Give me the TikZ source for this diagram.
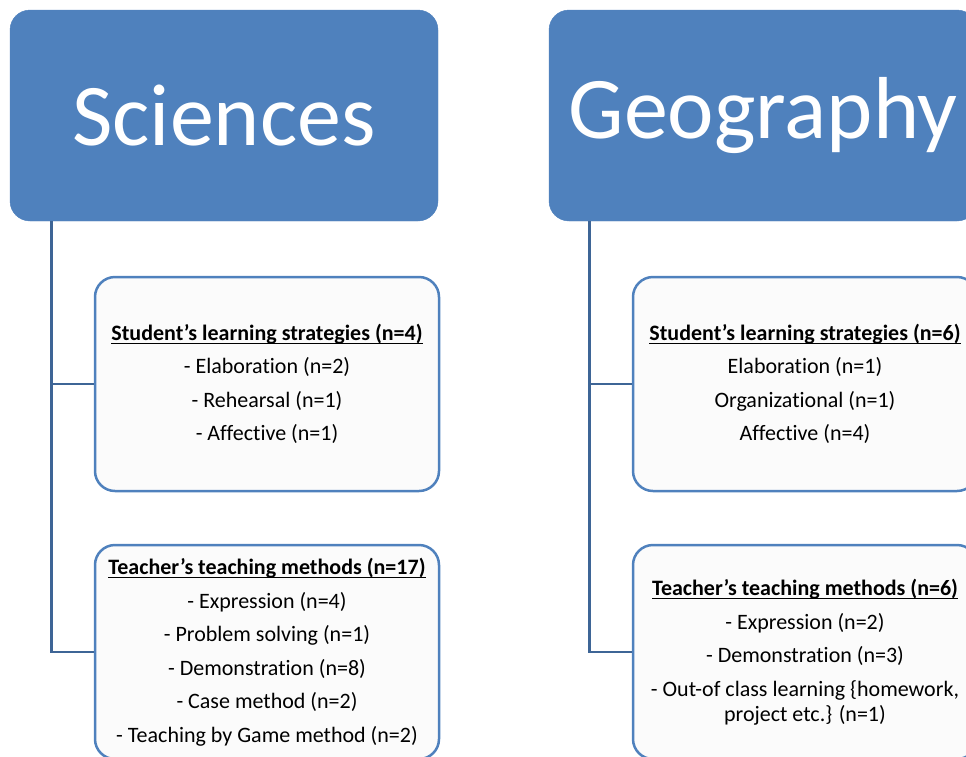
\documentclass[tikz,border=0pt]{standalone}
\usepackage{fontspec}
\setmainfont{Carlito}[Ligatures=NoCommon]

\definecolor{headblue}{RGB}{79,129,189}
\definecolor{linkblue}{RGB}{62,101,150}
\definecolor{boxfill}{RGB}{251,251,251}

\newcommand{\ulhead}[1]{\sbox0{\bfseries #1}\rlap{\rule[-3.5pt]{\wd0}{1.3pt}}\usebox0}

\tikzset{
  subject/.style={fill=headblue, draw=headblue, rounded corners=20pt,
    minimum width=428pt, minimum height=211pt, text=white,
    font=\fontsize{88}{96}\selectfont},
  groupbox/.style={fill=boxfill, draw=headblue, line width=2.5pt, rounded corners=20pt,
    minimum width=344pt, minimum height=214pt, align=center,
    font=\fontsize{22}{25}\selectfont},
  branch/.style={draw=linkblue, line width=2.8pt}
}

\begin{document}
\begin{tikzpicture}[x=1pt, y=-1pt]
  \useasboundingbox (0,0) rectangle (966,756);
  \clip (0,0) rectangle (966,756);

  % subject headers
  \node[subject] (sci-head) at (224, 115.5) {Sciences};
  \node[subject] (geo-head) at (763, 115.5) {Geography};

  % group boxes
  \node[groupbox] (sci-stud) at (267, 384) {\ulhead{Student’s learning strategies (n=4)}\\[8.5pt]
    - Elaboration (n=2)\\[8.5pt] - Rehearsal (n=1)\\[8.5pt] - Affective (n=1)};
  \node[groupbox] (sci-teach) at (267, 652) {\ulhead{Teacher’s teaching methods (n=17)}\\[8.5pt]
    - Expression (n=4)\\[8.5pt] - Problem solving (n=1)\\[8.5pt] - Demonstration (n=8)\\[8.5pt]
    - Case method (n=2)\\[8.5pt] - Teaching by Game method (n=2)};

  \node[groupbox] (geo-stud) at (805, 384) {\ulhead{Student’s learning strategies (n=6)}\\[8.5pt]
    Elaboration (n=1)\\[8.5pt] Organizational (n=1)\\[8.5pt] Affective (n=4)};
  \node[groupbox] (geo-teach) at (805, 652) {\ulhead{Teacher’s teaching methods (n=6)}\\[8.5pt]
    - Expression (n=2)\\[8.5pt] - Demonstration (n=3)\\[8.5pt]
    - Out-of class learning \{homework,\\ project etc.\} (n=1)};

  % connectors
  \foreach \subj/\off in {sci/42, geo/41} {
    \draw[branch] ([xshift=\off pt]\subj-head.south west) |- (\subj-stud.west);
    \draw[branch] ([xshift=\off pt]\subj-head.south west) |- (\subj-teach.west);
  }
\end{tikzpicture}
\end{document}
